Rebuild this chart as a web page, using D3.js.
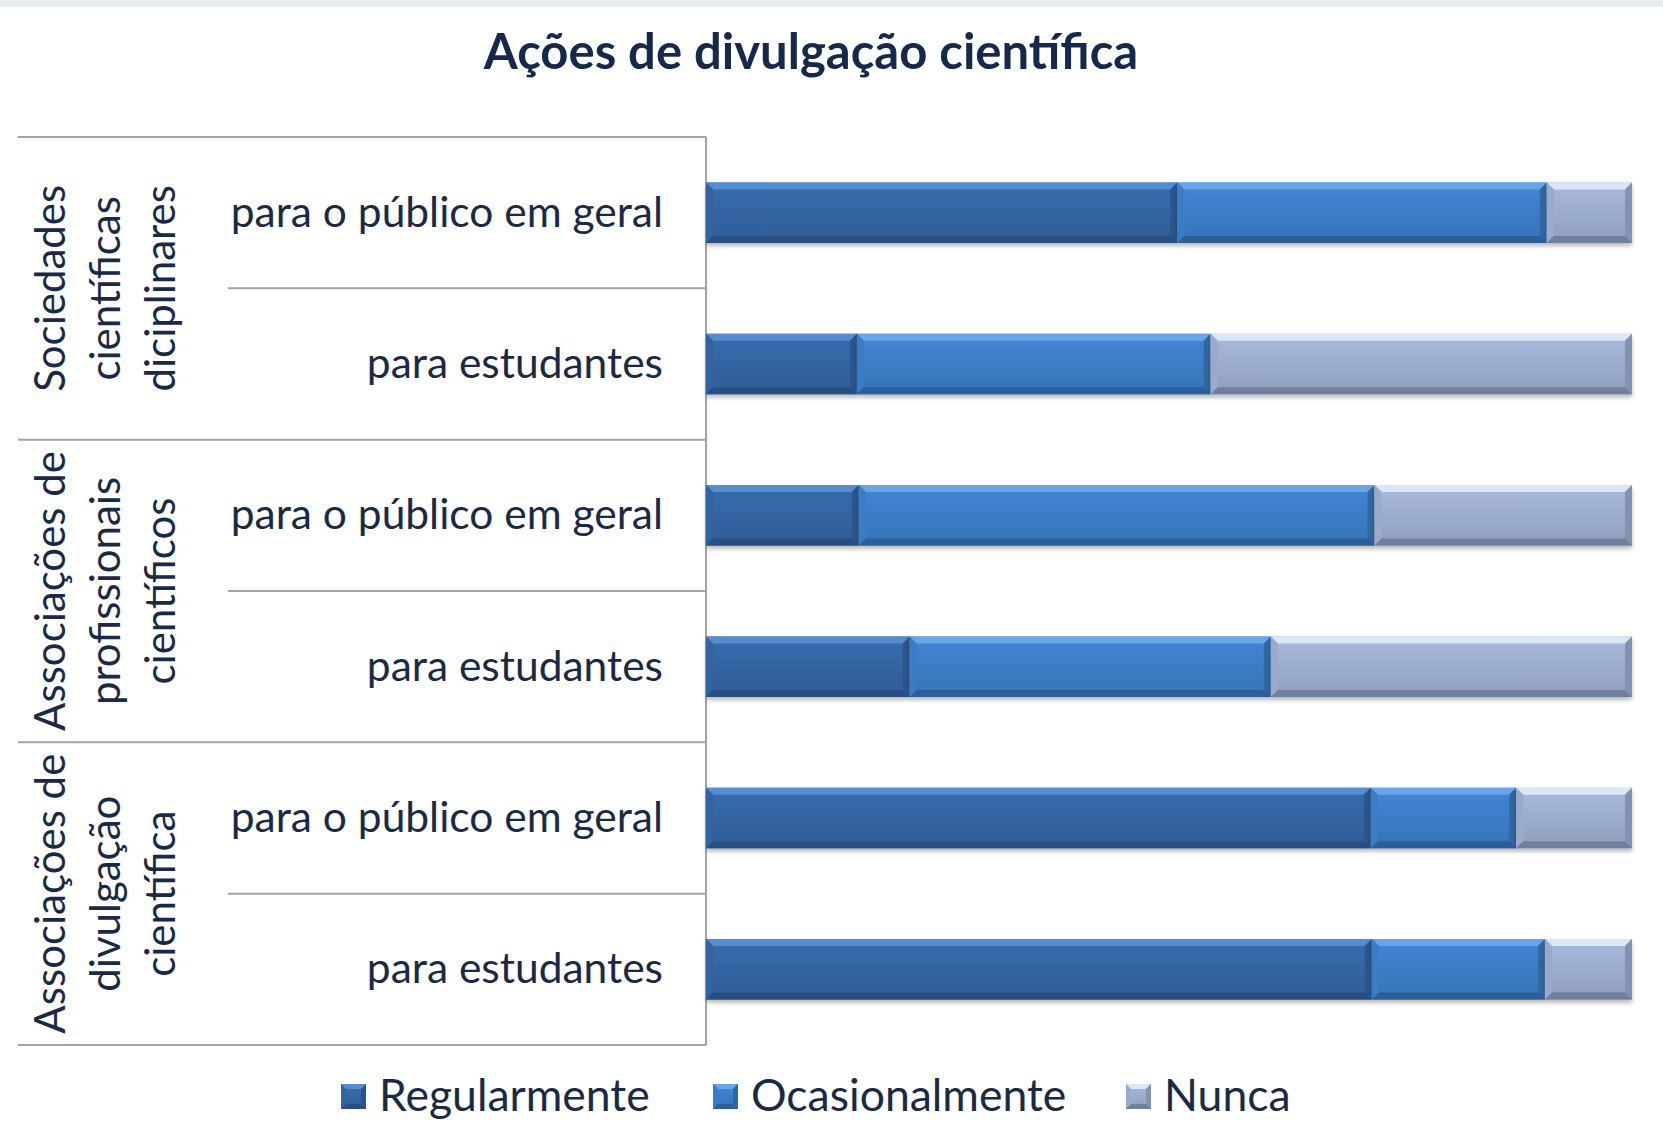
<!DOCTYPE html>
<html>
<head>
<meta charset="utf-8">
<script src="https://cdn.jsdelivr.net/npm/d3@7"></script>
<style>
  body { margin: 0; background: #fff; }
  text { font-family: Lato, "Open Sans", sans-serif; fill: #1b2a44; }
</style>
</head>
<body>
<svg id="chart" width="1663" height="1134"></svg>
<script>
// data (percent of respondents)
var groupLines = [
  ["Sociedades", "científicas", "diciplinares"],
  ["Associações de", "profissionais", "científicos"],
  ["Associações de", "divulgação", "científica"]
];
var audiences = ["para o público em geral", "para estudantes"];
var series = ["Regularmente", "Ocasionalmente", "Nunca"];
var regularmente   = [50.9, 16.3, 16.5, 22.0, 71.8, 71.9];
var ocasionalmente = [39.9, 38.2, 55.7, 39.0, 15.7, 18.7];
var nunca          = [9.2, 45.5, 27.8, 39.0, 12.5, 9.4];

var fills = {
  Regularmente:   { mid: "#3264a0", top: "#5d93d4", bot: "#284f82", side: "#2a568c" },
  Ocasionalmente: { mid: "#3b7bc4", top: "#6eacec", bot: "#2c5e99", side: "#30679f" },
  Nunca:          { mid: "#9aaacb", top: "#e4eefa", bot: "#707f9c", side: "#8492b2" }
};

var rows = [];
groupLines.forEach(function (g, gi) {
  audiences.forEach(function (a, ai) {
    var i = gi * 2 + ai;
    rows.push({ id: "r" + i, group: gi, audience: a,
      Regularmente: regularmente[i], Ocasionalmente: ocasionalmente[i], Nunca: nunca[i] });
  });
});

var svg = d3.select("#chart");

// thin grey strip along the top
svg.append("rect").attr("x", 0).attr("y", 0).attr("width", 1663).attr("height", 7).attr("fill", "#e8eced");

// title
svg.append("text")
  .attr("x", 811).attr("y", 69)
  .attr("text-anchor", "middle")
  .style("font-size", "49px").style("font-weight", "bold")
  .style("fill", "#17294a")
  .text("Ações de divulgação científica");

var x = d3.scaleLinear().domain([0, 100]).range([706, 1632]);
var y = d3.scaleBand().domain(rows.map(function (d) { return d.id; }))
  .range([137, 1045]).paddingInner(0.6).paddingOuter(0.3);

var defs = svg.append("defs");
var shadow = defs.append("filter").attr("id", "shadow")
  .attr("x", "-5%").attr("y", "-20%").attr("width", "110%").attr("height", "150%");
shadow.append("feDropShadow").attr("dx", 0).attr("dy", 3).attr("stdDeviation", 2)
  .attr("flood-color", "#000").attr("flood-opacity", 0.28);

series.forEach(function (s) {
  var c = fills[s];
  var grad = defs.append("linearGradient").attr("id", "g-" + s)
    .attr("x1", 0).attr("y1", 0).attr("x2", 0).attr("y2", 1);
  grad.append("stop").attr("offset", "0%").attr("stop-color", d3.color(c.mid).brighter(0.25));
  grad.append("stop").attr("offset", "100%").attr("stop-color", d3.color(c.mid).darker(0.2));
});

// table lines on the left
var lineColor = "#a3a3a3";
var step = y.step();
var top0 = y.range()[0];
var grid = svg.append("g").attr("stroke", lineColor).attr("stroke-width", 2);
grid.append("line").attr("x1", 18).attr("x2", x(0)).attr("y1", top0).attr("y2", top0);
rows.forEach(function (d, i) {
  var yy = top0 + (i + 1) * step;
  grid.append("line")
    .attr("x1", i % 2 === 0 ? 228 : 18).attr("x2", x(0))
    .attr("y1", yy).attr("y2", yy);
});
grid.append("line").attr("x1", x(0)).attr("x2", x(0)).attr("y1", top0).attr("y2", top0 + rows.length * step);

// group labels, rotated
groupLines.forEach(function (lines, gi) {
  var cy = top0 + gi * 2 * step + step;
  var t = svg.append("text")
    .attr("transform", "translate(106," + cy + ") rotate(-90)")
    .attr("text-anchor", "middle")
    .style("font-size", "42px");
  lines.forEach(function (l, li) {
    t.append("tspan").attr("x", 0).attr("y", (li - 1) * 55 + 14).text(l);
  });
});

// row labels
svg.append("g").selectAll("text").data(rows).join("text")
  .attr("x", 663)
  .attr("y", function (d) { return y(d.id) + y.bandwidth() / 2 + 14; })
  .attr("text-anchor", "end")
  .style("font-size", "42.5px")
  .text(function (d) { return d.audience; });

// bevelled segment
function bevel(g, x0, y0, w, h, s, b) {
  var c = fills[s];
  var x1 = x0 + w, y1 = y0 + h;
  g.append("rect").attr("x", x0).attr("y", y0).attr("width", w).attr("height", h)
    .attr("fill", "url(#g-" + s + ")");
  g.append("polygon")
    .attr("points", [[x0, y0], [x1, y0], [x1 - b, y0 + b], [x0 + b, y0 + b]].join(" "))
    .attr("fill", c.top).attr("opacity", 0.85);
  g.append("polygon")
    .attr("points", [[x0, y0], [x0 + b, y0 + b], [x0 + b, y1 - b], [x0, y1]].join(" "))
    .attr("fill", c.mid);
  g.append("polygon")
    .attr("points", [[x1, y0], [x1, y1], [x1 - b, y1 - b], [x1 - b, y0 + b]].join(" "))
    .attr("fill", c.side);
  g.append("polygon")
    .attr("points", [[x0, y1], [x1, y1], [x1 - b, y1 - b], [x0 + b, y1 - b]].join(" "))
    .attr("fill", c.bot);
}

var stacked = d3.stack().keys(series)(rows);
var barsG = svg.append("g");
stacked.forEach(function (layer) {
  layer.forEach(function (seg) {
    var g = barsG.append("g").attr("filter", "url(#shadow)");
    bevel(g, x(seg[0]), y(seg.data.id), x(seg[1]) - x(seg[0]), y.bandwidth(), layer.key, 7);
  });
});

// legend
var legendX = [341, 713, 1126];
var legend = svg.append("g");
series.forEach(function (s, i) {
  var g = legend.append("g");
  bevel(g, legendX[i], 1084, 25, 25, s, 5);
  legend.append("text")
    .attr("x", legendX[i] + 38).attr("y", 1111)
    .style("font-size", "44.5px")
    .text(s);
});
</script>
</body>
</html>
